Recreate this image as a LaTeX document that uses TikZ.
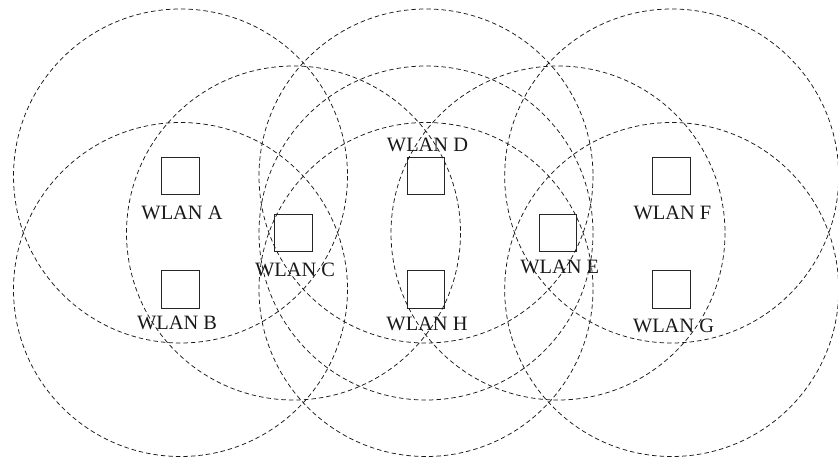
\documentclass[tikz,border=0pt]{standalone}
\usepackage{fontspec}
\setmainfont{Liberation Serif}
\begin{document}
\begin{tikzpicture}[x=1pt,y=-1pt,
  coverage/.style={draw=black!90, dash pattern=on 4.5pt off 3pt, line width=0.75pt},
  ap/.style={draw=black!85, line width=1pt, minimum size=37.7pt, inner sep=0pt},
  lbl/.style={font=\fontsize{20.4}{22}\selectfont, text=black!90, inner sep=0pt, anchor=base}]
\useasboundingbox (0,0) rectangle (838,461);
% access points
\node[ap] (A) at (180.5,176) {};
\node[ap] (B) at (180.5,289.5) {};
\node[ap] (C) at (293.5,233) {};
\node[ap] (D) at (426,176) {};
\node[ap] (H) at (426,289.5) {};
\node[ap] (E) at (558,233) {};
\node[ap] (F) at (671.7,176) {};
\node[ap] (G) at (671.7,289.5) {};
\coordinate (M) at (426,233);
% coverage ranges
\foreach \n in {A,B,C,D,M,H,E,F,G}
  \draw[coverage] (\n.center) circle[radius=167];
% labels
\node[lbl] (lA) at (182,219) {WLAN A};
\node[lbl] (lB) at (177,329) {WLAN B};
\node[lbl] (lC) at (295,276) {WLAN C};
\node[lbl] (lD) at (427.5,151) {WLAN D};
\node[lbl] (lE) at (559.7,273) {WLAN E};
\node[lbl] (lF) at (672.5,219) {WLAN F};
\node[lbl] (lG) at (673.5,332) {WLAN G};
\node[lbl] (lH) at (427,330) {WLAN H};
\end{tikzpicture}
\end{document}
